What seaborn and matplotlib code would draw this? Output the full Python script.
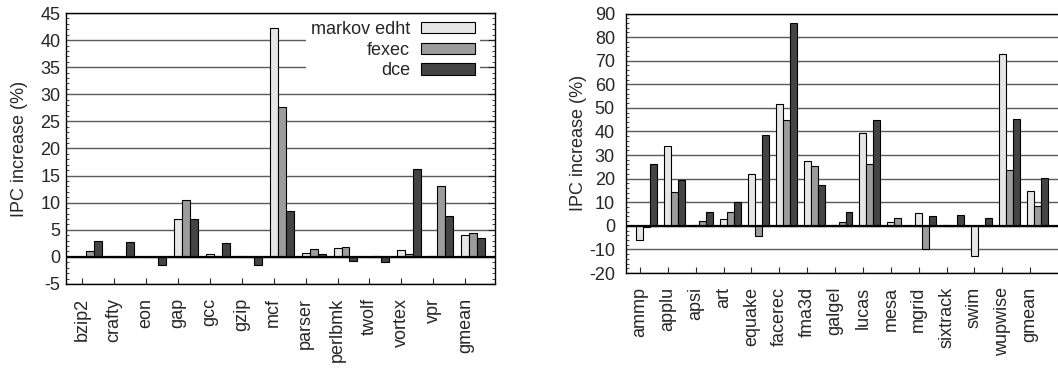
import numpy as np
import pandas as pd
import matplotlib
matplotlib.use("Agg")
import matplotlib.pyplot as plt
from matplotlib.ticker import MultipleLocator
import seaborn as sns

# ---- data ----
configs = ["markov edht", "fexec", "dce"]

int_bench = ["bzip2", "crafty", "eon", "gap", "gcc", "gzip", "mcf", "parser",
             "perlbmk", "twolf", "vortex", "vpr", "gmean"]
int_markov = [0.05, 0.15, 0.0, 7.0, 0.5, 0.1, 42.2, 0.7, 1.7, 0.05, 1.2, 0.2, 4.0]
int_fexec = [1.0, 0.0, 0.0, 10.5, 0.1, 0.0, 27.7, 1.5, 1.9, 0.2, 0.6, 13.1, 4.5]
int_dce = [3.0, 2.7, -1.5, 7.0, 2.6, -1.5, 8.4, 0.6, -0.7, -0.9, 16.3, 7.5, 3.5]

fp_bench = ["ammp", "applu", "apsi", "art", "equake", "facerec", "fma3d", "galgel",
            "lucas", "mesa", "mgrid", "sixtrack", "swim", "wupwise", "gmean"]
fp_markov = [-6.0, 33.8, 0.2, 2.7, 21.8, 51.6, 27.6, 0.5, 39.3, 1.5, 5.5, 0.2, -13.0, 72.8, 14.7]
fp_fexec = [-0.6, 14.3, 2.0, 5.8, -4.5, 44.7, 25.3, 1.8, 26.2, 3.2, -9.7, 0.0, 0.0, 23.8, 8.5]
fp_dce = [26.2, 19.3, 5.8, 9.9, 38.4, 86.0, 17.2, 5.8, 44.9, 0.0, 4.0, 4.5, 3.2, 45.2, 20.2]

colors = ["#e6e6e6", "#9c9c9c", "#444444"]

sns.set_style("white")
plt.rcParams["font.family"] = ["Liberation Sans", "DejaVu Sans"]
plt.rcParams["font.size"] = 13
plt.rcParams["axes.unicode_minus"] = False

FS = 13


def long_df(bench, series):
    rows = []
    for cfg, vals in zip(configs, series):
        for b, v in zip(bench, vals):
            rows.append({"bench": b, "config": cfg, "val": v})
    return pd.DataFrame(rows)


fig = plt.figure(figsize=(10.58, 3.68), dpi=100)
W, H = 1058.0, 368.0
ax1 = fig.add_axes([66 / W, (H - 284) / H, 429 / W, 271 / H])
ax2 = fig.add_axes([626 / W, (H - 273) / H, 446 / W, 259.5 / H])


def draw(ax, bench, series, ylim, major, minor, xr, pad, legend):
    df = long_df(bench, series)
    sns.barplot(data=df, x="bench", y="val", hue="config", hue_order=configs,
                order=bench, palette=colors, width=0.75, gap=0,
                edgecolor="black", linewidth=0.8, saturation=1, ax=ax,
                legend=legend)
    ax.set_ylim(*ylim)
    ax.set_xlim(*xr)
    ax.yaxis.set_major_locator(MultipleLocator(major))
    ax.yaxis.set_minor_locator(MultipleLocator(minor))
    ax.set_xticks(np.arange(len(bench)) - 0.25)
    ax.set_xticklabels(bench, rotation=90)
    ax.set_xlabel("")
    ax.set_ylabel("IPC increase (%)", fontsize=FS)
    ax.yaxis.grid(True, which="major", color="#5a5a5a", lw=1.0)
    ax.set_axisbelow(True)
    ax.axhline(0, color="black", lw=1.6, zorder=3)
    ax.tick_params(axis="y", which="major", direction="in", length=5, width=0.8,
                   right=True, pad=pad, labelsize=FS)
    ax.tick_params(axis="y", which="minor", direction="in", length=2.5, width=0.6,
                   right=True, left=True)
    ax.tick_params(axis="x", which="major", direction="in", length=4, width=0.8,
                   bottom=True, top=False, pad=10, labelsize=FS)
    for s in ax.spines.values():
        s.set_color("black")
        s.set_linewidth(1.0)


draw(ax1, int_bench, [int_markov, int_fexec, int_dce], (-5, 45), 5, 1,
     (-0.75, 12.68), 4, True)
draw(ax2, fp_bench, [fp_markov, fp_fexec, fp_dce], (-20, 90), 10, 2,
     (-0.75, 15.25), 8, False)

ax1.yaxis.set_label_coords(-0.089, 0.5)
ax2.yaxis.set_label_coords(-0.087, 0.5)

leg = ax1.legend(loc="upper right", bbox_to_anchor=(0.985, 1.02), markerfirst=False,
                 frameon=True, facecolor="white", edgecolor="none", framealpha=1,
                 fontsize=FS, handlelength=3.0, handleheight=0.6,
                 handletextpad=0.6, labelspacing=0.2, borderpad=0.25,
                 fancybox=False)
for t in leg.get_texts():
    t.set_ha("right")

fig.savefig("out.png", dpi=100)
